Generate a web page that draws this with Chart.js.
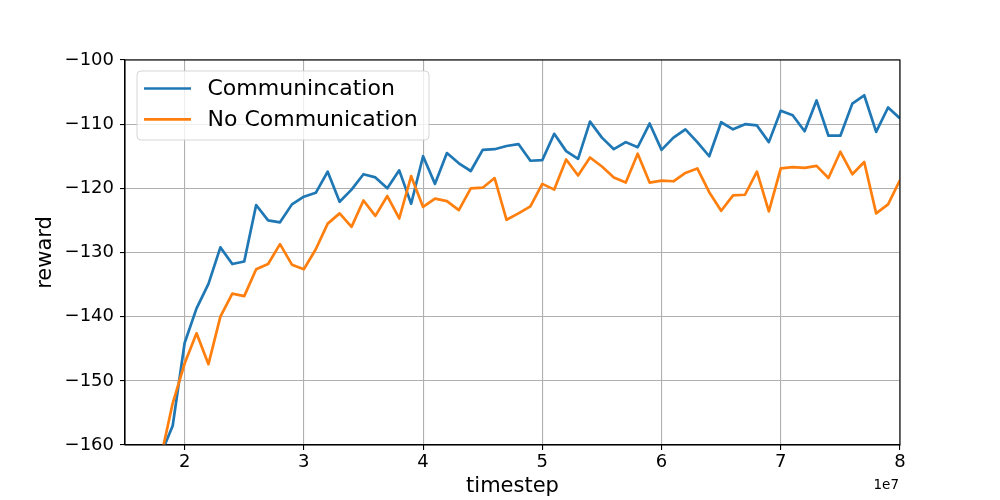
<!DOCTYPE html>
<html>
<head>
<meta charset="utf-8">
<script src="https://cdn.jsdelivr.net/npm/chart.js@4.4.1/dist/chart.umd.min.js"></script>
<style>
  html, body { margin: 0; padding: 0; background: #fff; }
  #wrap { width: 1000px; height: 500px; }
</style>
</head>
<body>
<div id="wrap"><canvas id="chart" width="1000" height="500"></canvas></div>
<script>
// ── Data (timestep in units of 1e7) ─────────────────────────────────
const STEPS = [
  1.8, 1.9, 2.0, 2.1, 2.2, 2.3, 2.4, 2.5, 2.6, 2.7, 2.8, 2.9,
  3.0, 3.1, 3.2, 3.3, 3.4, 3.5, 3.6, 3.7, 3.8, 3.9,
  4.0, 4.1, 4.2, 4.3, 4.4, 4.5, 4.6, 4.7, 4.8, 4.9,
  5.0, 5.1, 5.2, 5.3, 5.4, 5.5, 5.6, 5.7, 5.8, 5.9,
  6.0, 6.1, 6.2, 6.3, 6.4, 6.5, 6.6, 6.7, 6.8, 6.9,
  7.0, 7.1, 7.2, 7.3, 7.4, 7.5, 7.6, 7.7, 7.8, 7.9, 8.0,
];

const COMM = [
  -161.5, -157.0, -144.1, -138.7, -134.9, -129.2, -131.8, -131.4, -122.6, -125.0, -125.3, -122.5,
  -121.3, -120.7, -117.4, -122.1, -120.2, -117.8, -118.3, -120.0, -117.2, -122.4,
  -115.0, -119.3, -114.5, -116.1, -117.3, -114.0, -113.9, -113.4, -113.1, -115.7,
  -115.6, -111.5, -114.2, -115.4, -109.6, -112.1, -113.9, -112.8, -113.6, -109.9,
  -114.0, -112.1, -110.8, -112.8, -115.0, -109.7, -110.8, -110.0, -110.2, -112.8,
  -107.9, -108.6, -111.1, -106.3, -111.8, -111.8, -106.8, -105.5, -111.2, -107.4, -109.1,
];

const NO_COMM = [
  -162.0, -153.5, -147.3, -142.6, -147.4, -140.0, -136.4, -136.8, -132.6, -131.8, -128.7, -131.9,
  -132.6, -129.5, -125.5, -123.9, -126.0, -121.9, -124.3, -121.2, -124.7, -118.1,
  -122.9, -121.6, -122.0, -123.4, -120.0, -119.9, -118.4, -124.9, -123.9, -122.8,
  -119.3, -120.2, -115.5, -118.0, -115.2, -116.6, -118.3, -119.1, -114.6, -119.1,
  -118.8, -118.9, -117.6, -116.9, -120.6, -123.5, -121.1, -121.0, -117.4, -123.6,
  -116.9, -116.7, -116.8, -116.5, -118.4, -114.3, -117.8, -115.9, -123.9, -122.5, -118.7,
];

const SERIES_LABELS = ['Communincation', 'No Communication'];
const X_TICKS = [2, 3, 4, 5, 6, 7, 8];
const Y_TICKS = [-160, -150, -140, -130, -120, -110, -100];

// ── Style ───────────────────────────────────────────────────────────
const FONT = "'DejaVu Sans', sans-serif";
const BLUE = '#1f77b4';
const ORANGE = '#ff7f0e';
const GRID = '#b0b0b0';
const LINE_W = 2.7;

const toPoints = (ys) => STEPS.map((x, i) => ({ x, y: ys[i] }));
const fmtTick = (v) => (v < 0 ? '\u2212' + Math.abs(v) : String(v));

// frame + legend + offset text, drawn after datasets
const decorations = {
  id: 'decorations',
  afterDraw(chart) {
    const { ctx, chartArea: a } = chart;
    ctx.save();
    // axes box
    ctx.strokeStyle = '#000';
    ctx.lineWidth = 1.1;
    ctx.strokeRect(a.left, a.top, a.right - a.left, a.bottom - a.top);

    // legend
    const lx = 137, ly = 71, lw = 292, lh = 69, r = 4;
    ctx.beginPath();
    ctx.moveTo(lx + r, ly);
    ctx.arcTo(lx + lw, ly, lx + lw, ly + lh, r);
    ctx.arcTo(lx + lw, ly + lh, lx, ly + lh, r);
    ctx.arcTo(lx, ly + lh, lx, ly, r);
    ctx.arcTo(lx, ly, lx + lw, ly, r);
    ctx.closePath();
    ctx.fillStyle = 'rgba(255,255,255,0.8)';
    ctx.fill();
    ctx.strokeStyle = 'rgba(204,204,204,0.8)';
    ctx.lineWidth = 1;
    ctx.stroke();

    const rows = [88.5, 119.3];
    chart.data.datasets.forEach((ds, i) => {
      ctx.strokeStyle = ds.borderColor;
      ctx.lineWidth = LINE_W;
      ctx.beginPath();
      ctx.moveTo(144, rows[i]);
      ctx.lineTo(191, rows[i]);
      ctx.stroke();
      ctx.fillStyle = '#000';
      ctx.font = '22px ' + FONT;
      ctx.textAlign = 'left';
      ctx.textBaseline = 'middle';
      ctx.fillText(ds.label, 207.5, rows[i] + 0.5);
    });

    // x offset text
    ctx.font = '13.5px ' + FONT;
    ctx.textAlign = 'right';
    ctx.textBaseline = 'alphabetic';
    ctx.fillText('1e7', 899, 489);
    ctx.restore();
  },
};

new Chart(document.getElementById('chart'), {
  type: 'line',
  data: {
    datasets: [
      { label: SERIES_LABELS[0], data: toPoints(COMM), borderColor: BLUE, borderWidth: LINE_W, order: 1 },
      { label: SERIES_LABELS[1], data: toPoints(NO_COMM), borderColor: ORANGE, borderWidth: LINE_W, order: 0 },
    ],
  },
  options: {
    responsive: false,
    animation: false,
    layout: { padding: { top: 60, right: 100, bottom: 0, left: 0 } },
    elements: {
      line: { tension: 0, fill: false, borderJoinStyle: 'round', borderCapStyle: 'butt' },
      point: { radius: 0, hoverRadius: 0 },
    },
    datasets: { line: { clip: 0 } },
    plugins: { legend: { display: false }, tooltip: { enabled: false } },
    scales: {
      x: {
        type: 'linear',
        min: 1.5,
        max: 8,
        afterBuildTicks: (s) => { s.ticks = X_TICKS.map((value) => ({ value })); },
        afterFit: (s) => { s.height = 55; },
        grid: { color: GRID, lineWidth: 1.1, tickColor: '#000', tickLength: 5, tickWidth: 1.1 },
        border: { color: '#000', width: 1.1 },
        ticks: { color: '#000', padding: 2, font: { family: FONT, size: 18, lineHeight: 1.2 }, callback: fmtTick, maxRotation: 0 },
        title: { display: true, text: 'timestep', color: '#000', font: { family: FONT, size: 21, lineHeight: 1.2 }, padding: { top: 0, bottom: 1 } },
      },
      y: {
        type: 'linear',
        min: -160,
        max: -100,
        afterBuildTicks: (s) => { s.ticks = Y_TICKS.map((value) => ({ value })); },
        afterFit: (s) => { s.width = 125; },
        grid: { color: GRID, lineWidth: 1.1, tickColor: '#000', tickLength: 5, tickWidth: 1.1 },
        border: { color: '#000', width: 1.1 },
        ticks: { color: '#000', padding: 6, font: { family: FONT, size: 18 }, callback: fmtTick },
        title: { display: true, text: 'reward', color: '#000', font: { family: FONT, size: 21, lineHeight: 1.2 }, padding: { top: 33, bottom: 0 } },
      },
    },
  },
  plugins: [decorations],
});
</script>
</body>
</html>
